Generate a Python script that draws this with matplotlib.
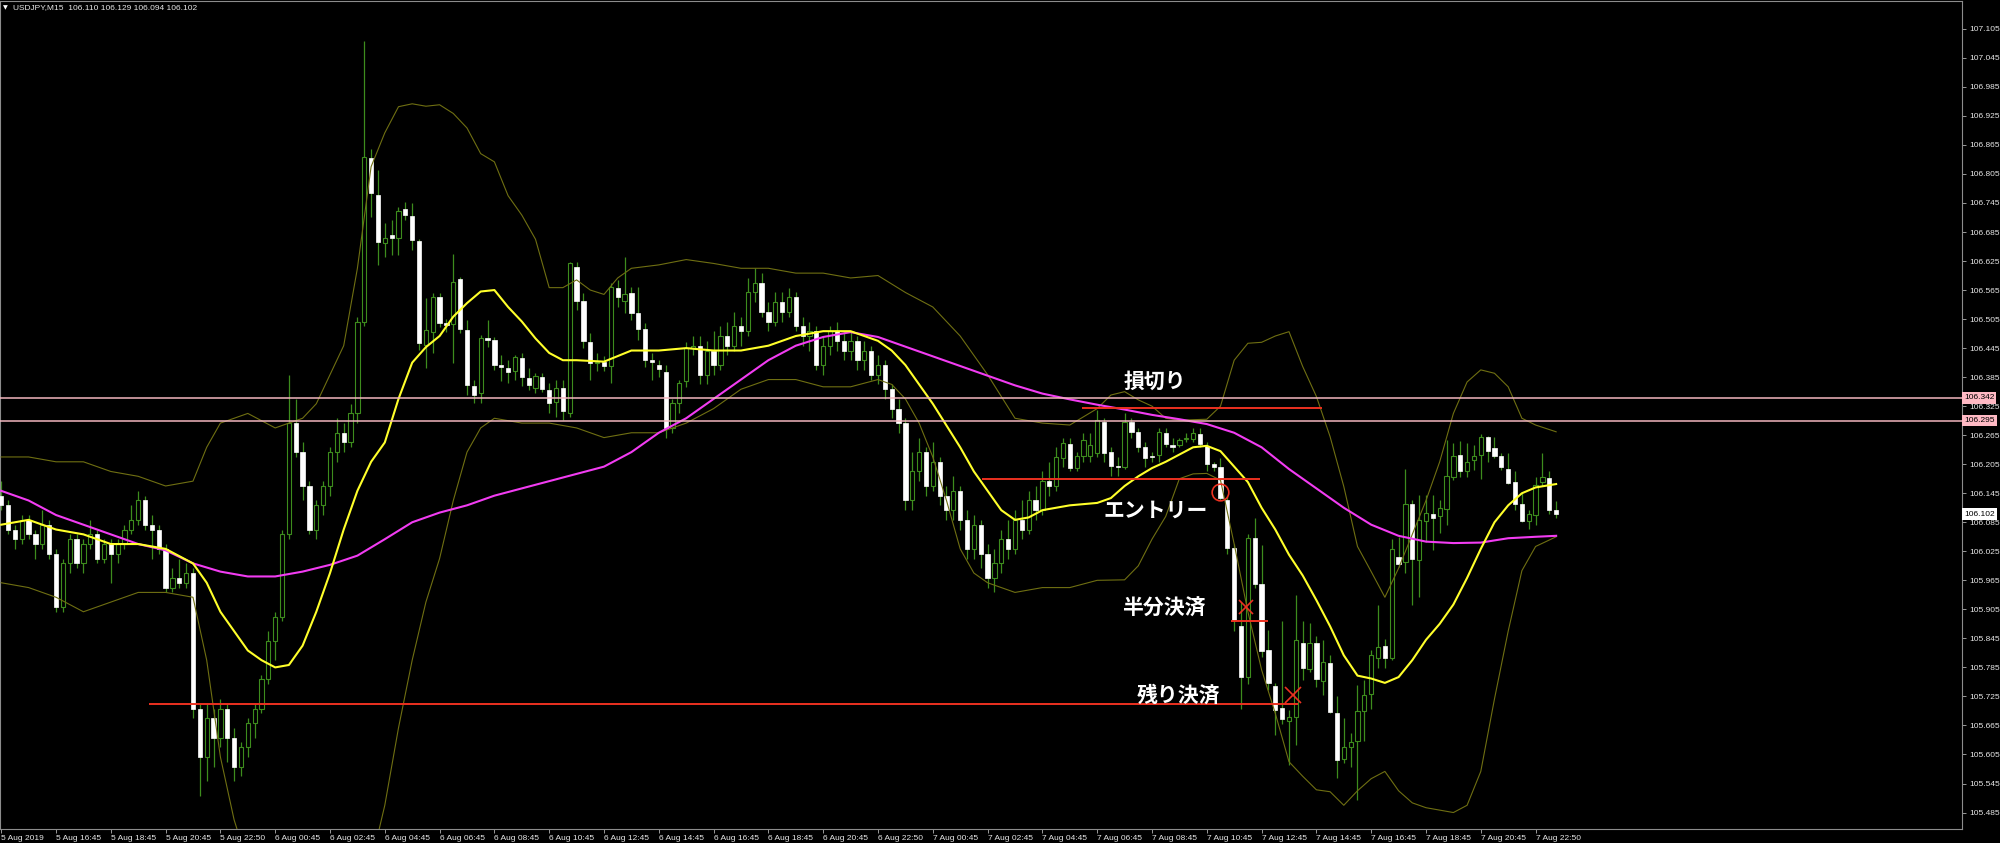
import numpy as np
import matplotlib
matplotlib.use('Agg')
import matplotlib.pyplot as plt
from matplotlib import transforms

plt.rcParams['font.family'] = ['Liberation Sans', 'DejaVu Sans']

# USDJPY M15 candles (bar index 0 = 5 Aug 2019 14:45)
open_ = [106.14, 106.12, 106.07, 106.05, 106.09, 106.06, 106.04, 106.08, 106.02, 105.91,
         106.00, 106.05, 106.00, 106.04, 106.06, 106.01, 106.04, 106.02, 106.04, 106.07,
         106.09, 106.13, 106.08, 106.07, 106.03, 105.95, 105.97, 105.96, 105.98, 105.70,
         105.60, 105.68, 105.64, 105.70, 105.64, 105.58, 105.62, 105.67, 105.70, 105.76,
         105.84, 105.89, 106.06, 106.29, 106.23, 106.16, 106.07, 106.12, 106.16, 106.23,
         106.27, 106.25, 106.31, 106.50, 106.837, 106.761, 106.663, 106.679, 106.672, 106.733,
         106.719, 106.666, 106.451, 106.479, 106.550, 106.496, 106.495, 106.587, 106.482, 106.367,
         106.352, 106.465, 106.462, 106.411, 106.403, 106.398, 106.424, 106.384, 106.362, 106.386,
         106.358, 106.334, 106.362, 106.310, 106.612, 106.543, 106.458, 106.414, 106.417, 106.407,
         106.570, 106.542, 106.558, 106.518, 106.484, 106.420, 106.410, 106.396, 106.28, 106.331,
         106.376, 106.445, 106.45, 106.39, 106.44, 106.41, 106.47, 106.45, 106.49, 106.48,
         106.56, 106.58, 106.52, 106.50, 106.54, 106.52, 106.55, 106.49, 106.47, 106.48,
         106.41, 106.45, 106.48, 106.46, 106.44, 106.46, 106.42, 106.44, 106.39, 106.41,
         106.36, 106.32, 106.29, 106.13, 106.19, 106.23, 106.16, 106.21, 106.14, 106.11,
         106.15, 106.09, 106.03, 106.08, 106.02, 105.97, 106.00, 106.05, 106.03, 106.09,
         106.07, 106.13, 106.11, 106.17, 106.16, 106.217, 106.247, 106.197, 106.221, 106.221,
         106.228, 106.293, 106.231, 106.201, 106.199, 106.293, 106.272, 106.241, 106.220, 106.224,
         106.270, 106.245, 106.245, 106.258, 106.258, 106.267, 106.243, 106.206, 106.199, 106.132,
         106.031, 105.871, 105.766, 106.052, 105.957, 105.820, 105.747, 105.702, 105.675, 105.683,
         105.836, 105.781, 105.835, 105.756, 105.795, 105.690, 105.595, 105.621, 105.632, 105.694,
         105.729, 105.804, 105.829, 105.804, 106.014, 106.002, 106.123, 106.007, 106.088, 106.102,
         106.098, 106.112, 106.179, 106.224, 106.191, 106.214, 106.224, 106.261, 106.238, 106.222,
         106.195, 106.169, 106.123, 106.088, 106.100, 106.168, 106.176, 106.110]
high = [106.17, 106.13, 106.08, 106.10, 106.10, 106.07, 106.11, 106.09, 106.03, 106.01,
        106.06, 106.06, 106.05, 106.09, 106.07, 106.05, 106.05, 106.05, 106.08, 106.12,
        106.15, 106.14, 106.10, 106.08, 106.04, 105.99, 106.01, 106.00, 105.99, 105.71,
        105.71, 105.70, 105.72, 105.71, 105.66, 105.63, 105.68, 105.71, 105.77, 105.86,
        105.90, 106.07, 106.39, 106.34, 106.25, 106.17, 106.13, 106.17, 106.24, 106.30,
        106.29, 106.33, 106.51, 107.08, 106.856, 106.813, 106.703, 106.710, 106.737, 106.746,
        106.744, 106.670, 106.548, 106.558, 106.558, 106.505, 106.639, 106.593, 106.503, 106.379,
        106.472, 106.504, 106.468, 106.431, 106.420, 106.431, 106.434, 106.403, 106.393, 106.393,
        106.372, 106.379, 106.379, 106.624, 106.622, 106.558, 106.476, 106.435, 106.428, 106.579,
        106.586, 106.633, 106.572, 106.572, 106.496, 106.434, 106.420, 106.41, 106.34, 106.379,
        106.458, 106.47, 106.47, 106.46, 106.48, 106.49, 106.50, 106.52, 106.51, 106.59,
        106.61, 106.60, 106.54, 106.56, 106.56, 106.57, 106.56, 106.51, 106.50, 106.49,
        106.47, 106.49, 106.50, 106.48, 106.48, 106.47, 106.46, 106.45, 106.43, 106.42,
        106.37, 106.34, 106.30, 106.23, 106.26, 106.24, 106.25, 106.22, 106.16, 106.18,
        106.16, 106.11, 106.10, 106.09, 106.04, 106.03, 106.07, 106.09, 106.11, 106.13,
        106.15, 106.16, 106.19, 106.21, 106.24, 106.259, 106.26, 106.23, 106.27, 106.27,
        106.317, 106.30, 106.24, 106.22, 106.31, 106.30, 106.28, 106.25, 106.23, 106.28,
        106.28, 106.26, 106.26, 106.27, 106.28, 106.28, 106.25, 106.21, 106.217, 106.14,
        106.04, 105.92, 106.06, 106.093, 106.038, 105.862, 105.752, 105.880, 105.697, 105.935,
        105.880, 105.876, 105.849, 105.842, 105.811, 105.725, 105.680, 105.649, 105.749, 105.759,
        105.821, 105.914, 105.843, 106.050, 106.055, 106.196, 106.131, 106.141, 106.141, 106.141,
        106.131, 106.255, 106.248, 106.252, 106.248, 106.245, 106.267, 106.264, 106.262, 106.228,
        106.228, 106.190, 106.145, 106.110, 106.179, 106.228, 106.192, 106.129]
low = [106.11, 106.06, 106.03, 106.04, 106.05, 106.01, 106.03, 106.01, 105.90, 105.90,
       105.98, 105.99, 105.98, 106.03, 106.00, 106.00, 105.96, 106.00, 106.03, 106.06,
       106.08, 106.07, 106.01, 106.02, 105.94, 105.94, 105.95, 105.95, 105.68, 105.52,
       105.55, 105.58, 105.62, 105.59, 105.55, 105.56, 105.60, 105.64, 105.69, 105.75,
       105.80, 105.88, 106.05, 106.22, 106.13, 106.06, 106.05, 106.10, 106.14, 106.21,
       106.23, 106.24, 106.29, 106.49, 106.717, 106.617, 106.634, 106.637, 106.637, 106.710,
       106.648, 106.441, 106.403, 106.434, 106.489, 106.478, 106.414, 106.476, 106.348, 106.331,
       106.331, 106.448, 106.400, 106.376, 106.372, 106.379, 106.366, 106.358, 106.352, 106.355,
       106.310, 106.303, 106.296, 106.303, 106.524, 106.445, 106.379, 106.398, 106.398, 106.372,
       106.531, 106.517, 106.503, 106.462, 106.405, 106.379, 106.386, 106.26, 106.27, 106.31,
       106.365, 106.43, 106.37, 106.37, 106.39, 106.40, 106.43, 106.44, 106.45, 106.47,
       106.54, 106.51, 106.48, 106.49, 106.50, 106.51, 106.48, 106.45, 106.44, 106.40,
       106.39, 106.43, 106.44, 106.42, 106.42, 106.40, 106.40, 106.38, 106.37, 106.34,
       106.30, 106.27, 106.11, 106.11, 106.17, 106.14, 106.15, 106.12, 106.09, 106.09,
       106.07, 106.01, 106.01, 105.99, 105.95, 105.94, 105.98, 106.01, 106.02, 106.05,
       106.06, 106.09, 106.10, 106.14, 106.15, 106.20, 106.19, 106.19, 106.21, 106.21,
       106.22, 106.21, 106.18, 106.18, 106.195, 106.26, 106.23, 106.20, 106.21, 106.21,
       106.24, 106.23, 106.24, 106.25, 106.25, 106.24, 106.19, 106.19, 106.13, 106.02,
       105.86, 105.70, 105.75, 105.95, 105.807, 105.738, 105.645, 105.669, 105.583, 105.625,
       105.759, 105.776, 105.745, 105.728, 105.690, 105.556, 105.587, 105.580, 105.511, 105.632,
       105.700, 105.783, 105.783, 105.80, 105.993, 105.980, 105.914, 105.931, 106.045, 106.028,
       106.062, 106.079, 106.172, 106.179, 106.179, 106.193, 106.174, 106.210, 106.217, 106.194,
       106.164, 106.110, 106.086, 106.072, 106.079, 106.159, 106.103, 106.094]
close = [106.12, 106.07, 106.05, 106.09, 106.06, 106.04, 106.08, 106.02, 105.91, 106.00,
         106.05, 106.00, 106.04, 106.06, 106.01, 106.04, 106.02, 106.04, 106.07, 106.09,
         106.13, 106.08, 106.07, 106.03, 105.95, 105.97, 105.96, 105.98, 105.70, 105.60,
         105.68, 105.64, 105.70, 105.64, 105.58, 105.62, 105.67, 105.70, 105.76, 105.84,
         105.89, 106.06, 106.29, 106.23, 106.16, 106.07, 106.12, 106.16, 106.23, 106.27,
         106.25, 106.31, 106.50, 106.84, 106.765, 106.665, 106.672, 106.672, 106.729, 106.720,
         106.668, 106.456, 106.482, 106.550, 106.496, 106.493, 106.581, 106.484, 106.369, 106.348,
         106.465, 106.462, 106.411, 106.405, 106.396, 106.426, 106.385, 106.369, 106.387, 106.360,
         106.331, 106.362, 106.314, 106.620, 106.543, 106.460, 106.414, 106.417, 106.407, 106.572,
         106.551, 106.556, 106.518, 106.484, 106.420, 106.416, 106.401, 106.28, 106.331, 106.372,
         106.445, 106.45, 106.39, 106.44, 106.41, 106.47, 106.45, 106.49, 106.48, 106.56,
         106.58, 106.52, 106.50, 106.54, 106.52, 106.55, 106.49, 106.47, 106.48, 106.41,
         106.45, 106.48, 106.46, 106.44, 106.46, 106.42, 106.44, 106.39, 106.41, 106.36,
         106.32, 106.29, 106.13, 106.19, 106.23, 106.16, 106.21, 106.14, 106.11, 106.15,
         106.09, 106.03, 106.08, 106.02, 105.97, 106.00, 106.05, 106.03, 106.09, 106.07,
         106.13, 106.11, 106.17, 106.16, 106.22, 106.248, 106.197, 106.221, 106.255, 106.245,
         106.296, 106.228, 106.201, 106.199, 106.293, 106.272, 106.241, 106.217, 106.219, 106.272,
         106.247, 106.240, 106.256, 106.258, 106.269, 106.247, 106.206, 106.199, 106.135, 106.031,
         105.883, 105.766, 106.052, 105.957, 105.818, 105.752, 105.697, 105.678, 105.682, 105.842,
         105.783, 105.836, 105.760, 105.797, 105.692, 105.594, 105.621, 105.631, 105.694, 105.728,
         105.811, 105.828, 105.805, 106.029, 105.999, 106.122, 106.010, 106.090, 106.105, 106.093,
         106.114, 106.181, 106.221, 106.191, 106.210, 106.222, 106.262, 106.233, 106.221, 106.199,
         106.167, 106.122, 106.088, 106.103, 106.162, 106.178, 106.110, 106.102]

# indicator lines (bar index, value)
ma_fast_bar = [0, 4, 8, 12, 16, 20, 24, 28, 30, 32, 34, 36, 38, 40, 42, 44, 46, 48, 50, 52,
               54, 56, 58, 60, 62, 64, 66, 68, 70, 72, 74, 76, 78, 80, 82, 84, 88, 92, 96, 100,
               104, 108, 112, 116, 120, 124, 128, 130, 132, 134, 136, 138, 140, 142, 144, 146, 148, 150,
               152, 156, 160, 162, 164, 166, 168, 170, 172, 174, 176, 178, 180, 182, 184, 186,
               188, 190, 192, 194, 196, 198, 200, 202, 204, 206, 208, 210, 212, 214, 216, 218,
               220, 222, 224, 227]
ma_fast = [106.08, 106.09, 106.07, 106.06, 106.04, 106.04, 106.03, 106.00, 105.96, 105.90,
           105.86, 105.82, 105.80, 105.785, 105.79, 105.83, 105.90, 105.98, 106.07, 106.15,
           106.21, 106.25, 106.34, 106.415, 106.447, 106.47, 106.51, 106.538, 106.562, 106.565,
           106.53, 106.50, 106.465, 106.435, 106.42, 106.42, 106.417, 106.44, 106.44, 106.445,
           106.44, 106.44, 106.45, 106.47, 106.48, 106.48, 106.46, 106.44, 106.41, 106.37,
           106.33, 106.285, 106.24, 106.19, 106.15, 106.11, 106.09, 106.095,
           106.11, 106.12, 106.125, 106.135, 106.16, 106.18, 106.197, 106.21, 106.225, 106.24,
           106.243, 106.232, 106.20, 106.168, 106.115, 106.07, 106.018, 105.975, 105.924, 105.87,
           105.81, 105.768, 105.762, 105.753, 105.765, 105.80, 105.842, 105.875, 105.915, 105.97,
           106.03, 106.085, 106.12, 106.145, 106.157, 106.164]
ma_slow_bar = list(range(0, 225, 4)) + [227]
ma_slow = [106.15, 106.13, 106.10, 106.08, 106.06, 106.04, 106.027, 106.00, 105.983, 105.973,
           105.973, 105.983, 105.997, 106.016, 106.05, 106.085, 106.105, 106.12, 106.14, 106.155,
           106.17, 106.185, 106.20, 106.23, 106.27, 106.30, 106.34, 106.38, 106.42, 106.45,
           106.468, 106.478, 106.468, 106.448, 106.428, 106.408, 106.388, 106.368, 106.351, 106.339,
           106.328, 106.318, 106.307, 106.298, 106.288, 106.27, 106.24, 106.195, 106.155, 106.115,
           106.08, 106.057, 106.045, 106.042, 106.043, 106.052, 106.055, 106.057]
bb_up_bar = [0, 4, 8, 12, 16, 20, 24, 28, 30, 32, 36, 40, 44, 46, 48, 50, 52, 54, 56, 58,
             60, 62, 64, 66, 68, 70, 72, 74, 76, 78, 80, 82, 84, 86, 88, 90, 92, 96, 100, 104,
             108, 112, 116, 120, 124, 128, 132, 136, 140, 144, 148, 152, 156, 160, 162, 164, 166, 168,
             170, 172, 176, 178, 180, 182, 184, 186, 188, 190, 192, 194, 196, 198, 200, 202,
             204, 206, 208, 210, 212, 214, 216, 218, 220, 222, 224, 227]
bb_upper = [106.22, 106.22, 106.21, 106.21, 106.19, 106.18, 106.16, 106.17, 106.24, 106.29,
            106.31, 106.28, 106.30, 106.33, 106.39, 106.45, 106.61, 106.82, 106.89, 106.944,
            106.95, 106.945, 106.948, 106.93, 106.90, 106.847, 106.83, 106.76, 106.72, 106.67,
            106.57, 106.57, 106.586, 106.565, 106.556, 106.59, 106.61, 106.617, 106.628, 106.62,
            106.61, 106.61, 106.60, 106.60, 106.59, 106.595, 106.56, 106.53, 106.47, 106.39,
            106.30, 106.29, 106.286, 106.32, 106.348, 106.355, 106.338, 106.325,
            106.30, 106.296, 106.298, 106.325, 106.42, 106.455, 106.457, 106.47, 106.479, 106.407,
            106.345, 106.262, 106.159, 106.035, 105.983, 105.93, 105.99, 106.06, 106.13, 106.21,
            106.31, 106.375, 106.40, 106.393, 106.365, 106.30, 106.286, 106.272]
bb_dn_bar = [0, 4, 8, 12, 16, 20, 24, 28, 30, 32, 34, 36, 40, 44, 48, 52, 54, 56, 58, 60,
             62, 64, 66, 68, 70, 72, 76, 80, 84, 88, 92, 96, 100, 104, 108, 112, 116, 120,
             124, 128, 130, 132, 134, 136, 138, 140, 142, 144, 148, 152, 156, 160, 164, 166,
             168, 170, 172, 174, 176, 178, 180, 182, 184, 186, 188, 190, 192, 194, 196, 198,
             200, 202, 204, 206, 208, 210, 212, 214, 216, 218, 220, 222, 224, 227]
bb_lower = [105.96, 105.95, 105.93, 105.90, 105.92, 105.94, 105.94, 105.93, 105.80, 105.60,
            105.47, 105.38, 105.26, 105.16, 105.16, 105.26, 105.38, 105.50, 105.66, 105.80,
            105.92, 106.01, 106.13, 106.23, 106.28, 106.30, 106.29, 106.29, 106.28, 106.26,
            106.27, 106.27, 106.29, 106.32, 106.36, 106.38, 106.38, 106.365,
            106.365, 106.38, 106.37, 106.34, 106.29, 106.22, 106.13, 106.03, 105.98, 105.96,
            105.94, 105.95, 105.95, 105.965, 105.966, 105.995,
            106.05, 106.097, 106.175, 106.185, 106.186, 106.172, 106.04, 105.90, 105.78, 105.69,
            105.59, 105.56, 105.532, 105.528, 105.50, 105.53,
            105.555, 105.57, 105.53, 105.505, 105.495, 105.49, 105.485, 105.50, 105.57, 105.72,
            105.86, 105.985, 106.035, 106.055]

time_labels = ['5 Aug 2019', '5 Aug 16:45', '5 Aug 18:45', '5 Aug 20:45', '5 Aug 22:50',
               '6 Aug 00:45', '6 Aug 02:45', '6 Aug 04:45', '6 Aug 06:45', '6 Aug 08:45',
               '6 Aug 10:45', '6 Aug 12:45', '6 Aug 14:45', '6 Aug 16:45', '6 Aug 18:45',
               '6 Aug 20:45', '6 Aug 22:50', '7 Aug 00:45', '7 Aug 02:45', '7 Aug 04:45',
               '7 Aug 06:45', '7 Aug 08:45', '7 Aug 10:45', '7 Aug 12:45', '7 Aug 14:45',
               '7 Aug 16:45', '7 Aug 18:45', '7 Aug 20:45', '7 Aug 22:50']
price_ticks = [round(107.105 - 0.06 * i, 3) for i in range(28)]
hlines_pink = [106.342, 106.295]
last_price = 106.102

# trade marks
stop_level, entry_level, half_level, rest_level = 106.321, 106.174, 105.881, 105.709
notes = [('損切り', 163.9, 106.377), ('エントリー', 160.9, 106.110),
         ('半分決済', 163.6, 105.907), ('残り決済', 165.8, 105.728)]

#figure
fig = plt.figure(figsize=(20, 8.43), dpi=100, facecolor='black')
ax = fig.add_axes([0.0, 14.5 / 843, 1962 / 2000, 827.5 / 843])
ax.set_facecolor('black')

o = np.array(open_); h = np.array(high); l = np.array(low); c = np.array(close)
x = np.arange(len(c))
up = c >= o
wick = '#3d8c1d'

ax.vlines(x, l, h, color=wick, lw=0.9, zorder=2)
bot = np.minimum(o, c)
hgt = np.maximum(np.abs(c - o), 0.0022)
ax.bar(x[up], hgt[up], bottom=bot[up], width=0.62, color='black', edgecolor=wick,
       linewidth=0.8, zorder=3)
ax.bar(x[~up], hgt[~up], bottom=bot[~up], width=0.62, color='white', edgecolor='white',
       linewidth=0.5, zorder=3)

# indicators
ax.plot(bb_up_bar, bb_upper, color='#6f6f12', lw=0.8, zorder=4)
ax.plot(bb_dn_bar, bb_lower, color='#6f6f12', lw=0.8, zorder=4)
ax.plot(ma_slow_bar, ma_slow, color='#f23cf2', lw=1.5, zorder=5, solid_joinstyle='round')
ax.plot(ma_fast_bar, ma_fast, color='#ffff2a', lw=1.5, zorder=5, solid_joinstyle='round')

for lv in hlines_pink:
    ax.axhline(lv, color='#f2b6be', lw=1.1, zorder=6)

red = '#ec3120'
ax.hlines(stop_level, 157.8, 192.8, color=red, lw=1.4, zorder=7)
ax.hlines(entry_level, 143.2, 183.8, color=red, lw=1.4, zorder=7)
ax.hlines(half_level, 179.5, 184.9, color=red, lw=1.4, zorder=7)
ax.hlines(rest_level, 21.6, 189.3, color=red, lw=1.4, zorder=7)
ax.plot(177.9, 106.148, marker='o', ms=12, mfc='none', mec=red, mew=1.2, zorder=8)
ax.plot(181.7, 105.910, marker='x', ms=10, mec=red, mew=1.2, zorder=8)
ax.plot(188.6, 105.728, marker='x', ms=11, mec=red, mew=1.2, zorder=8)

for txt, bx, py in notes:
    ax.text(bx, py, txt, color='white', fontsize=15, family=['Noto Sans CJK JP'],
            fontweight='bold', ha='left', va='center', zorder=9)

ax.set_xlim(-0.175, 286.25)
ax.set_ylim(105.452, 107.1625)

ax.yaxis.tick_right()
ax.set_yticks(price_ticks)
ax.set_yticklabels([f'{v:.3f}' for v in price_ticks])
ax.tick_params(axis='y', labelsize=6, labelcolor='#e6e6e6', color='#9a9a9a',
               length=3, width=0.7, pad=2)
ax.set_xticks(range(0, 225, 8))
ax.set_xticklabels(time_labels, ha='left')
ax.tick_params(axis='x', labelsize=6, labelcolor='#e6e6e6', color='#9a9a9a',
               length=3, width=0.7, pad=1.5)
for s in ax.spines.values():
    s.set_color('#8c8c8c')
    s.set_linewidth(0.8)

# price boxes on the right scale
blend = transforms.blended_transform_factory(fig.transFigure, ax.transData)
for lv in hlines_pink:
    fig.text(1964 / 2000, lv, f'{lv:.3f}', transform=blend, fontsize=6, color='black',
             ha='left', va='center',
             bbox=dict(boxstyle='square,pad=0.25', fc='#ffb9c4', ec='none'))
fig.text(1964 / 2000, last_price, f'{last_price:.3f}', transform=blend, fontsize=6,
         color='black', ha='left', va='center',
         bbox=dict(boxstyle='square,pad=0.25', fc='white', ec='none'))

# header
fig.text(3 / 2000, 1 - 7.5 / 843, '▼', fontsize=4.5, color='white', va='center',
         family=['DejaVu Sans'])
fig.text(13 / 2000, 1 - 7.5 / 843, 'USDJPY,M15  106.110 106.129 106.094 106.102',
         fontsize=6, color='#e6e6e6', va='center')

plt.savefig('out.png', dpi=100, facecolor='black')
